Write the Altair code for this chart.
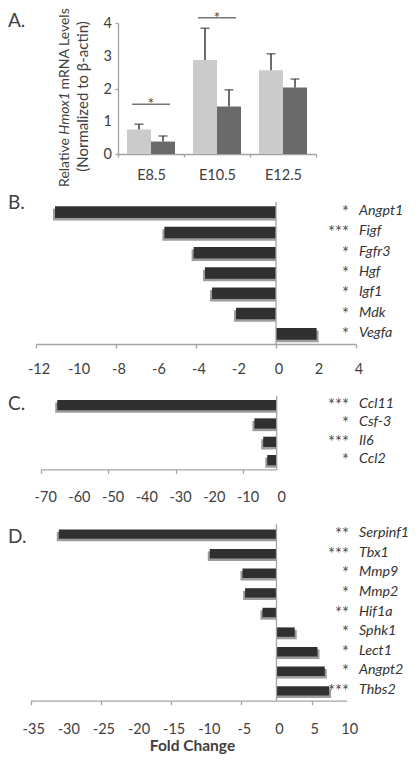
import altair as alt
import pandas as pd

FONT = "Lato"
TXT = "#404040"
AX = "#a3a3a3"
BAR = "#303030"
SHADOW = "#9c9c9c"
LIGHT = "#cbcbcb"
DARK = "#6a6a6a"
ERR = "#3c3c3c"
STAR = "#505050"

# ---------------- Panel A data ----------------
stages = ["E8.5", "E10.5", "E12.5"]
groups = ["Control", "Mutant"]
control_mean = [0.75, 2.87, 2.56]
control_upper = [0.91, 3.84, 3.06]
mutant_mean = [0.38, 1.45, 2.03]
mutant_upper = [0.55, 1.96, 2.29]
sig_stage = ["E8.5", "E10.5"]
sig_height = [1.52, 4.16]
sig_text = ["*", "*"]
a_ticks = [0, 1, 2, 3, 4]
ytitle_parts = ["Relative", "Hmox1", "mRNA Levels"]
ytitle_line2 = ["(Normalized to \u03b2-actin)"]

# ---------------- Panel B data ----------------
genes_b = ["Angpt1", "Figf", "Fgfr3", "Hgf", "Igf1", "Mdk", "Vegfa"]
fold_b = [-11.05, -5.58, -4.12, -3.55, -3.2, -2.0, 2.03]
stars_b = ["*", "***", "*", "*", "*", "*", "*"]
ticks_b = [-12, -10, -8, -6, -4, -2, 0, 2, 4]

# ---------------- Panel C data ----------------
genes_c = ["Ccl11", "Csf-3", "Il6", "Ccl2"]
fold_c = [-65.1, -6.6, -4.0, -2.8]
stars_c = ["***", "*", "***", "*"]
ticks_c = [-70, -60, -50, -40, -30, -20, -10, 0]

# ---------------- Panel D data ----------------
genes_d = ["Serpinf1", "Tbx1", "Mmp9", "Mmp2", "Hif1a", "Sphk1", "Lect1", "Angpt2", "Thbs2"]
fold_d = [-31.0, -9.5, -4.84, -4.47, -2.0, 2.6, 5.84, 6.88, 7.5]
stars_d = ["**", "***", "*", "*", "**", "*", "*", "*", "***"]
ticks_d = [-35, -30, -25, -20, -15, -10, -5, 0, 5, 10]

panel_letters = ["A.", "B.", "C.", "D."]
x_title = ["Fold Change"]

LETTER_X = -110
LABEL_FS = 14.5
GENE_X = 241
STAR_X = 231


def text_item(t, x, y, **kw):
    props = dict(font=FONT, color=TXT)
    props.update(kw)
    return alt.Chart(pd.DataFrame({"t": [t]})).mark_text(**props).encode(
        text="t:N", x=alt.value(x), y=alt.value(y))


def axis_style(**kw):
    d = dict(grid=False, domainColor=AX, tickColor=AX, domainWidth=1.3, tickWidth=1.3,
             labelFont=FONT, labelFontSize=LABEL_FS, labelColor=TXT)
    d.update(kw)
    return alt.Axis(**d)


# ---------------- Panel A ----------------
dfa = pd.DataFrame({
    "stage": stages * 2,
    "group": [groups[0]] * 3 + [groups[1]] * 3,
    "mean": control_mean + mutant_mean,
    "upper": control_upper + mutant_upper,
})
dfsig = pd.DataFrame({"stage": sig_stage, "level": sig_height, "star": sig_text})
dfat = pd.DataFrame({"mean": a_ticks, "lab": [str(t) for t in a_ticks]})

xa = alt.X("stage:N", sort=stages, title=None,
           scale=alt.Scale(paddingInner=0, paddingOuter=0),
           axis=axis_style(labelAngle=0, tickBand="extent", tickSize=3, labelPadding=11))
xo = alt.XOffset("group:N", sort=groups,
                 scale=alt.Scale(paddingInner=0, paddingOuter=0.375))
ya = alt.Y("mean:Q", title=None, scale=alt.Scale(domain=[0, 4], nice=False),
           axis=axis_style(values=a_ticks, tickSize=3, labels=False))

bars_a = alt.Chart(dfa).mark_bar().encode(
    x=xa, xOffset=xo, y=ya,
    color=alt.Color("group:N", scale=alt.Scale(domain=groups, range=[LIGHT, DARK]), legend=None))
err_a = alt.Chart(dfa).mark_rule(color=ERR, strokeWidth=1.5).encode(
    x=xa, xOffset=xo, y="mean:Q", y2="upper:Q")
cap_a = alt.Chart(dfa).mark_tick(color=ERR, thickness=1.5, size=9).encode(
    x=xa, xOffset=xo, y="upper:Q")
sig_line = alt.Chart(dfsig).mark_tick(color=ERR, thickness=1.5, size=38).encode(
    x=xa, y="level:Q")
sig_star = alt.Chart(dfsig).mark_text(font=FONT, fontSize=15, color=ERR, baseline="alphabetic",
                                      dy=5).encode(
    x=xa, y="level:Q", text="star:N")
ylabels_a = alt.Chart(dfat).mark_text(font=FONT, fontSize=LABEL_FS, color=TXT, align="right",
                                      baseline="middle", dy=1).encode(
    y=ya, x=alt.value(-6), text="lab:N")

YT_FS = 14
ytl = [
    text_item(ytitle_parts[0], -53, 115, angle=270, align="right", baseline="middle", fontSize=YT_FS),
    text_item(ytitle_parts[1], -53, 111.7, angle=270, align="left", baseline="middle", fontSize=YT_FS,
              fontStyle="italic"),
    text_item(ytitle_parts[2], -53, 66.4, angle=270, align="left", baseline="middle", fontSize=YT_FS),
    text_item(ytitle_line2[0], -35, 73.5, angle=270, align="center", baseline="middle", fontSize=15),
]

panel_a = alt.layer(
    bars_a, err_a, cap_a, sig_line, sig_star, ylabels_a,
    text_item(panel_letters[0], LETTER_X, 4.3, align="left", baseline="alphabetic", fontSize=19),
    *ytl,
).properties(width=198, height=131)


# ---------------- Fold-change panels ----------------
def fold_panel(genes, fold, stars, ticks, xrange, yrange, pad, letter, letter_y, label_y,
               label_dx, title=None, title_y=None):
    df = pd.DataFrame({"gene": genes, "fold": fold, "star": stars})
    dft = pd.DataFrame({"fold": ticks, "lab": [str(t) for t in ticks]})
    y = alt.Y("gene:N", sort=genes, axis=None,
              scale=alt.Scale(range=yrange, paddingInner=pad, paddingOuter=pad / 2))
    x = alt.X("fold:Q", title=None,
              scale=alt.Scale(domain=[ticks[0], ticks[-1]], range=xrange, nice=False, zero=False),
              axis=axis_style(values=ticks, tickSize=4, labels=False))
    base = alt.Chart(df)
    sh_neg = base.transform_filter("datum.fold < 0").mark_bar(
        color=SHADOW, xOffset=-2, yOffset=2.5, y2Offset=2.5).encode(x=x, x2=alt.datum(0), y=y)
    sh_pos = base.transform_filter("datum.fold >= 0").mark_bar(
        color=SHADOW, xOffset=2, yOffset=2.5, y2Offset=2.5).encode(x=x, x2=alt.datum(0), y=y)
    bars = base.mark_bar(color=BAR).encode(x=x, x2=alt.datum(0), y=y)
    zero = alt.Chart(pd.DataFrame({"z": [0]})).mark_rule(color=AX, strokeWidth=1.3).encode(
        x=alt.datum(0), y=alt.value(yrange[0]), y2=alt.value(yrange[1]))
    st = base.mark_text(align="right", baseline="middle", font=FONT, fontSize=16.5,
                        color=STAR, dy=1).encode(text="star:N", y=y, x=alt.value(STAR_X))
    gl = base.mark_text(align="left", baseline="middle", font=FONT, fontSize=14.3,
                        fontStyle="italic", color="#333333", dy=-1).encode(
        text="gene:N", y=y, x=alt.value(GENE_X))
    tl = alt.Chart(dft).mark_text(align="center", baseline="middle", font=FONT,
                                  fontSize=LABEL_FS, color=TXT, dx=label_dx).encode(
        x=x, y=alt.value(label_y), text="lab:N")
    lt = text_item(letter, LETTER_X, letter_y, align="left", baseline="alphabetic", fontSize=19)
    layers = [sh_neg, sh_pos, bars, zero, st, gl, tl, lt]
    if title is not None:
        layers.append(text_item(title, 74.5, title_y, align="center", baseline="alphabetic",
                                fontSize=15.5, fontWeight="bold"))
    return alt.layer(*layers).properties(width=int(round(xrange[1])), height=yrange[1])


panel_b = fold_panel(genes_b, fold_b, stars_b, ticks_b, [-82, 238], [2, 144], 0.43,
                     panel_letters[1], 9, 170, 3)
panel_c = fold_panel(genes_c, fold_c, stars_c, ticks_c, [-77.3, 158.7], [6, 79.3], 0.44,
                     panel_letters[2], 20, 107.5, 5)
panel_d = fold_panel(genes_d, fold_d, stars_d, ticks_d, [-87.3, 228.7], [8.3, 184.7], 0.52,
                     panel_letters[3], 26.7, 213.7, 3, title=x_title[0], title_y=235.2)

chart = alt.vconcat(panel_a, panel_b, panel_c, panel_d, spacing=46, bounds="flush").properties(
    autosize=alt.AutoSizeParams(type="none"),
    padding={"left": 110, "top": 15, "right": 292, "bottom": 731},
).configure_view(stroke=None)

chart.save("out.html", embed_options={"renderer": "svg", "actions": False})
